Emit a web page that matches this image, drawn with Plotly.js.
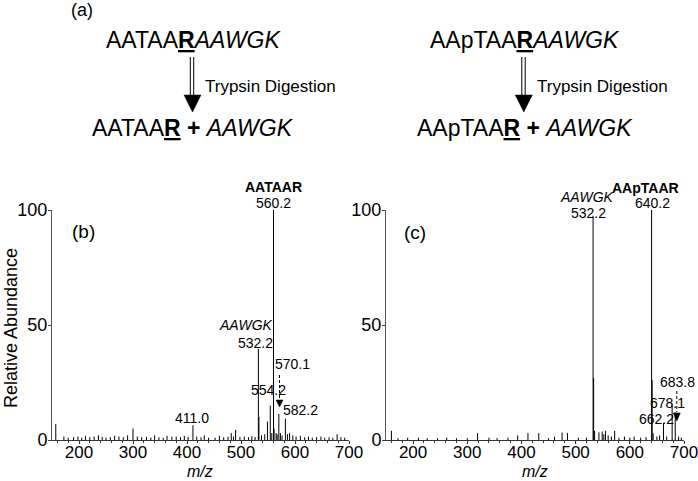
<!DOCTYPE html>
<html>
<head>
<meta charset="utf-8">
<script src="https://cdn.plot.ly/plotly-3.0.1.min.js"></script>
<style>html,body{margin:0;padding:0;background:#fff;}#chart{width:698px;height:481px;}</style>
</head>
<body>
<div id="chart"></div>
<script>
// ---- Data: panel (b) AATAARAAWGK digest ----
const mzB = [157,172,180,190,198,205,212,220,228,236,243,250,258,266,274,282,290,300,308,316,325,333,340,348,356,363,372,380,388,395,402,411.0,418,426,432,440,452,460,468,476,482,486,490,498,506,514,520,526,
  532.2,533.2,538,544,549,554.2,557,560.2,561.2,565,567,570.1,573,576,582.2,586,590,596,602,610,618,625,632,640,648,655,663,670,678,685,692];
const intB = [7,1.5,1,1.2,1.5,1,1.8,1.2,1.5,2,1.3,1,1.2,1.8,1.5,1.2,2,5,1.5,1.2,1.4,1,2,1.2,1,1.8,1.4,1.5,1.2,1.8,1.3,6.4,1.5,1.2,2,1,1,1.8,1.2,1.4,3,1.5,4.4,1.3,1.5,1.2,1.6,1.3,
  39.7,10,2,2.5,8,15,3,100,5,3,2.5,11.3,3,2,9.3,2.5,3,2,1.5,1.8,1.2,1.5,1,1.2,1.5,1,1.2,1,2.5,1.2,1];

// ---- Data: panel (c) AApTAARAAWGK digest ----
const mzC = [160,172,190,210,226,245,262,280,300,319,340,355,375,393,412,432,450,461,475,485,505,520,
  532.2,533.2,535,543,549,552,555,560,566,572,580,590,600,608,620,630,640.2,641.2,643,650,655,662.2,668,678.1,683.8,690,695];
const intC = [4,0.8,1,1,0.8,0.8,1,0.8,0.8,3,1,0.8,1,2,3,3,0.8,1.5,3.3,3,1,1,
  97.5,27,4,3.3,3.7,2.5,4,2,1.5,4,1,1.5,1,1.5,1,1.2,100,26,3,1.5,2,7.4,1.5,15.5,12,1.5,1];

const xTicks = [200,300,400,500,600,700];
const yTicks = [0,50,100];

// ---- helpers ----
const W = 698, H = 481;
const px = x => x / W;
const py = y => 1 - y / H;
const FONT = 'Liberation Sans, Arial, sans-serif';

function sticks(mz, inten) {
  const x = [], y = [];
  mz.forEach((m, i) => { x.push(m, m, null); y.push(0, inten[i], null); });
  return {x, y};
}
const sB = sticks(mzB, intB);
const sC = sticks(mzC, intC);

const traces = [
  {type:'scatter', mode:'lines', x:sB.x, y:sB.y, xaxis:'x', yaxis:'y',
   line:{color:'#000', width:1}, connectgaps:false, hoverinfo:'skip', showlegend:false},
  {type:'scatter', mode:'lines', x:sC.x, y:sC.y, xaxis:'x2', yaxis:'y2',
   line:{color:'#000', width:1}, connectgaps:false, hoverinfo:'skip', showlegend:false}
];

const xAxisBase = {
  range:[150,700], tickvals:xTicks, ticktext:xTicks.map(String), ticks:'outside', ticklen:3,
  tickcolor:'#333', showline:true, linecolor:'#333', linewidth:1, showgrid:false, zeroline:false,
  tickfont:{family:FONT, size:17, color:'#000'}, fixedrange:true, ticklabeloverflow:'allow',
  ticklabelstandoff:-6,
  minor:{ticks:'outside', ticklen:2, dtick:20, tickcolor:'#333', showgrid:false}
};
const yAxisBase = {
  range:[0,100], tickvals:yTicks, ticktext:yTicks.map(String), ticks:'outside', ticklen:3,
  tickcolor:'#444', showline:true, linecolor:'#555', linewidth:1, showgrid:false, zeroline:false,
  tickfont:{family:FONT, size:18, color:'#000'}, fixedrange:true, ticklabeloverflow:'allow',
  ticklabelstandoff:-3
};

function ann(text, x, y, size, extra) {
  return Object.assign({xref:'paper', yref:'paper', x:px(x), y:py(y), text:text, showarrow:false,
    xanchor:'center', yanchor:'middle', font:{family:FONT, size:size, color:'#000'}}, extra || {});
}

const annotations = [
  // scheme (a)
  ann('(a)', 82, 10, 18),
  ann('AATAA<b><u>R</u></b><i>AAWGK</i>', 193, 40, 23),
  ann('Trypsin Digestion', 203, 86, 17, {xanchor:'left'}),
  ann('AATAA<b><u>R</u></b> <b>+</b> <i>AAWGK</i>', 193, 128, 23),
  ann('AApTAA<b><u>R</u></b><i>AAWGK</i>', 525, 40, 23),
  ann('Trypsin Digestion', 535, 86, 17, {xanchor:'left'}),
  ann('AApTAA<b><u>R</u></b> <b>+</b> <i>AAWGK</i>', 525, 128, 23),
  // panel (b)
  ann('(b)', 83, 231, 19),
  ann('<b>AATAAR</b>', 273, 187, 14),
  ann('560.2', 273, 203, 14),
  ann('<i>AAWGK</i>', 246, 325, 14),
  ann('532.2', 255, 343, 14),
  ann('570.1', 292, 364, 14),
  ann('554.2', 268, 390, 14),
  ann('582.2', 300, 410, 14),
  ann('411.0', 192, 418, 14),
  // panel (c)
  ann('(c)', 415, 232, 19),
  ann('<i>AAWGK</i>', 587, 197, 14),
  ann('532.2', 588, 213, 14),
  ann('<b>AApTAAR</b>', 645, 188, 14),
  ann('640.2', 652, 203, 14),
  ann('683.8', 677, 382, 14),
  ann('678.1', 667, 403, 14),
  ann('662.2', 656, 419, 14),
  // axis titles
  ann('Relative Abundance', 11, 328, 18, {textangle:-90}),
  ann('<i>m/z</i>', 200, 471, 16),
  ann('<i>m/z</i>', 535, 471, 16)
];

function pline(x0, y0, x1, y1, extra) {
  return Object.assign({type:'line', xref:'paper', yref:'paper', x0:px(x0), y0:py(y0), x1:px(x1), y1:py(y1),
    line:{color:'#000', width:1}}, extra || {});
}
function tri(cx, top, halfW, h) {
  return {type:'path', xref:'paper', yref:'paper',
    path:`M${px(cx-halfW)},${py(top)} L${px(cx+halfW)},${py(top)} L${px(cx)},${py(top+h)} Z`,
    fillcolor:'#000', line:{color:'#000', width:0.5}};
}

const shapes = [
  // left digestion arrow
  pline(190.3, 57, 190.3, 96), pline(193.7, 57, 193.7, 96), tri(192.5, 95, 8.5, 17),
  // right digestion arrow
  pline(521.8, 57, 521.8, 96), pline(525.2, 57, 525.2, 96), tri(523.8, 95, 8.5, 17),
  // dashed pointer (b) 570.1
  pline(279.5, 375, 279.5, 399, {line:{color:'#000', width:1, dash:'3px,2px'}}), tri(279.5, 400, 3.5, 7),
  // dashed pointer (c) 683.8
  pline(676.8, 391, 676.8, 412, {line:{color:'#000', width:1, dash:'3px,2px'}}), tri(676.8, 413, 3.5, 8)
];

const layout = {
  width:W, height:H, margin:{l:0, r:0, t:0, b:0}, paper_bgcolor:'#fff', plot_bgcolor:'rgba(0,0,0,0)',
  showlegend:false,
  xaxis:Object.assign({}, xAxisBase, {domain:[px(52), px(349)], anchor:'y'}),
  yaxis:Object.assign({}, yAxisBase, {domain:[py(440), py(210)], anchor:'x'}),
  xaxis2:Object.assign({}, xAxisBase, {domain:[px(386), px(684)], anchor:'y2'}),
  yaxis2:Object.assign({}, yAxisBase, {domain:[py(440), py(210)], anchor:'x2'}),
  annotations:annotations, shapes:shapes
};

Plotly.newPlot('chart', traces, layout, {staticPlot:true, displayModeBar:false});
</script>
</body>
</html>
